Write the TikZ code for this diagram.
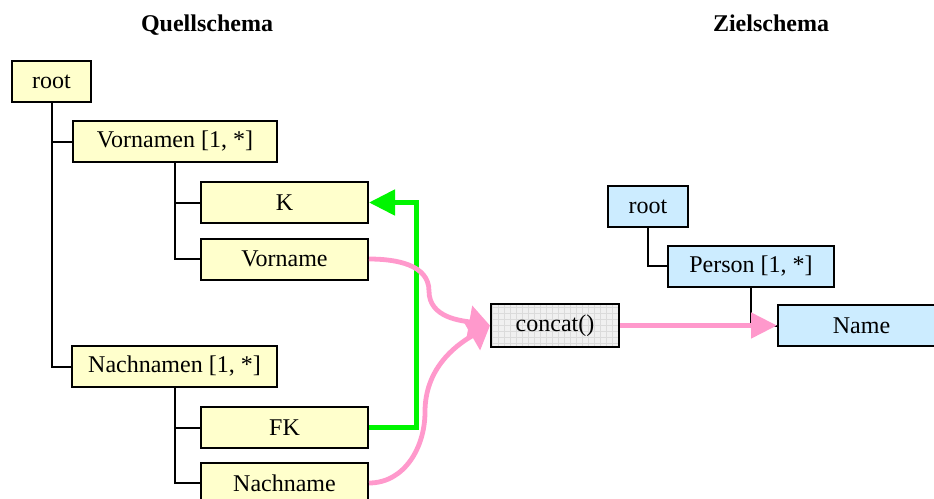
\documentclass[tikz,border=0pt]{standalone}
\usepackage{fontspec}
\setmainfont{Liberation Serif}
\usetikzlibrary{arrows.meta,patterns}
\definecolor{quellgelb}{RGB}{255,255,204}
\definecolor{zielblau}{RGB}{204,236,255}
\definecolor{mappink}{RGB}{255,153,204}
\definecolor{fkgruen}{RGB}{0,245,0}
\tikzset{
	schrift/.style={font=\fontsize{12}{14.4}\selectfont},
	titel/.style={font=\fontsize{12}{14.4}\selectfont\bfseries, anchor=base},
	element/.style={schrift, draw=black, line width=1pt, minimum height=20.5pt, inner sep=0pt},
	quelle/.style={element, fill=quellgelb},
	ziel/.style={element, fill=zielblau},
	baum/.style={line width=1pt},
	zuordnung/.style={mappink, line width=2.4pt, -{Triangle[length=10.5pt,width=16pt]}},
	zuordnunggerade/.style={mappink, line width=2.4pt, -{Triangle[length=13pt,width=12.5pt]}},
	schluessel/.style={fkgruen, line width=2.5pt, -{Triangle[length=13pt,width=12.5pt]}}
}

\begin{document}
\begin{tikzpicture}[x=0.5pt, y=-0.5pt]
			%%%%% START %%%%%
			
			\useasboundingbox (0, 0) rectangle (934, 499);
			
			\node[titel] (quelltitel) at (207, 31) {Quellschema};
			\node[titel] (zieltitel) at (771, 31) {Zielschema};
			
			\node[quelle, minimum width=39.5pt] (root) at (51.5, 81.5) {root};
			\node[quelle, minimum width=102pt] (vornamen) at (175, 141.5) {Vornamen [1, *]};
			\node[quelle, minimum width=83.5pt] (k) at (284.5, 202.5) {K};
			\node[quelle, minimum width=83.5pt] (vorname) at (284.5, 259) {Vorname};
			\node[quelle, minimum width=102.5pt] (nachnamen) at (174.5, 366.5) {Nachnamen [1, *]};
			\node[quelle, minimum width=83.5pt] (fk) at (284.5, 427.5) {FK};
			\node[quelle, minimum width=83.5pt] (nachname) at (284.5, 483) {Nachname};
			
			\node[ziel, minimum width=40pt] (zroot) at (648, 206.5) {root};
			\node[ziel, minimum width=83pt] (person) at (751, 266) {Person [1, *]};
			\node[ziel, minimum width=83.5pt] (name) at (861.5, 325.5) {Name};
			
			\node[element, minimum width=64pt, minimum height=21.5pt, preaction={fill=black!6},
				preaction={pattern=grid, pattern color=black!14}] (concat) at (555, 325.5) {concat()};
			
			\draw[baum] (root.south) |- (vornamen.west);
			\draw[baum] (root.south) |- (nachnamen.west);
			\draw[baum] (vornamen.south) |- (k.west);
			\draw[baum] (vornamen.south) |- (vorname.west);
			\draw[baum] (nachnamen.south) |- (fk.west);
			\draw[baum] (nachnamen.south) |- (nachname.west);
			\draw[baum] (zroot.south) |- (person.west);
			\draw[baum] (person.south) |- (name.west);
			
			\draw[schluessel] (fk.east) -- ++(47, 0) |- (k.east);
			
			\draw[zuordnung] (vorname.east) to[out=0, in=90] (429, 291) to[out=-90, in=170] (concat.west);
			\draw[zuordnung] (nachname.east) to[out=0, in=-90] (425, 412) to[out=90, in=210] (concat.west);
			\draw[zuordnunggerade] (concat.east) -- (name.west);
			
			%%%%% END %%%%%
\end{tikzpicture}
\end{document}
